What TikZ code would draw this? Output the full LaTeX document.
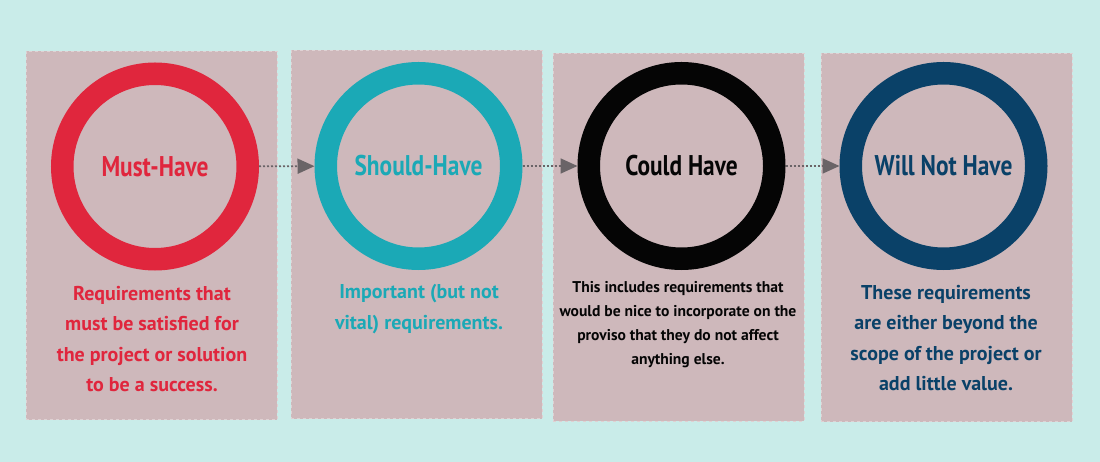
\documentclass[tikz,border=0pt]{standalone}
\usepackage{fontspec}
\setmainfont{PT Sans}
\newfontfamily\titlefont{PT Sans}[FakeStretch=0.82]
\usetikzlibrary{arrows.meta, positioning}

\definecolor{bgcyan}{HTML}{C9ECE9}
\definecolor{boxpink}{HTML}{CEB8BB}
\definecolor{mustred}{HTML}{E0263D}
\definecolor{shouldteal}{HTML}{1BA9B6}
\definecolor{couldblack}{HTML}{050505}
\definecolor{wontnavy}{HTML}{0A4168}
\definecolor{flowgray}{HTML}{6A6467}

\begin{document}
\begin{tikzpicture}[x=1pt, y=-1pt,
    panel/.style={draw=white!35!boxpink, dashed, line width=0.5pt, fill=boxpink,
      minimum width=251pt, minimum height=368pt, inner sep=0pt},
    ring/.style={circle, line width=22.5pt, draw=#1, text=#1, minimum size=185.5pt,
      inner sep=0pt, outer sep=11.25pt, font=\titlefont\bfseries\fontsize{28.5}{30}\selectfont},
    desc/.style={text=#1, align=center, inner sep=0pt,
      font=\bfseries\fontsize{20}{30.5}\selectfont},
    flow/.style={-{Triangle[length=17pt, width=15pt]}, flowgray, line width=1.8pt,
      dash pattern=on 2pt off 2pt}]
    % Background and picture size
    \fill[bgcyan] (0,0) rectangle (1100,462);
    \useasboundingbox (0,0) rectangle (1100,462);

    % Four panels
    \node[panel] (box1) at (151.5,235.5) {};
    \node[panel] (box2) at (416.5,234.5) {};
    \node[panel] (box3) at (678.5,237) {};
    \node[panel] (box4) at (946.5,237.5) {};

    % Rings with the category names
    \node[ring=mustred] (ring1) at (155,166.5) {Must-Have};
    \node[ring=shouldteal] (ring2) at (418.5,166) {Should-Have};
    \node[ring=couldblack] (ring3) at (681.5,166) {Could Have};
    \node[ring=wontnavy] (ring4) at (943.5,166) {Will Not Have};

    % Dotted arrows from ring to ring
    \draw[flow] (ring1) -- (ring2);
    \draw[flow] (ring2) -- (ring3);
    \draw[flow] (ring3) -- (ring4);

    % Descriptions
    \node[desc=mustred] (desc1) at (152,339) {Requirements that\\must be satisfied for\\the project or solution\\to be a success.};
    \node[desc=shouldteal] (desc2) at (419,309) {Important (but not\\vital) requirements.};
    \node[desc=couldblack, font=\bfseries\fontsize{15.6}{24}\selectfont] (desc3) at (678,325) {This includes requirements that\\would be nice to incorporate on the\\proviso that they do not affect\\anything else.};
    \node[desc=wontnavy] (desc4) at (946,338) {These requirements\\are either beyond the\\scope of the project or\\add little value.};
  \end{tikzpicture}
\end{document}
